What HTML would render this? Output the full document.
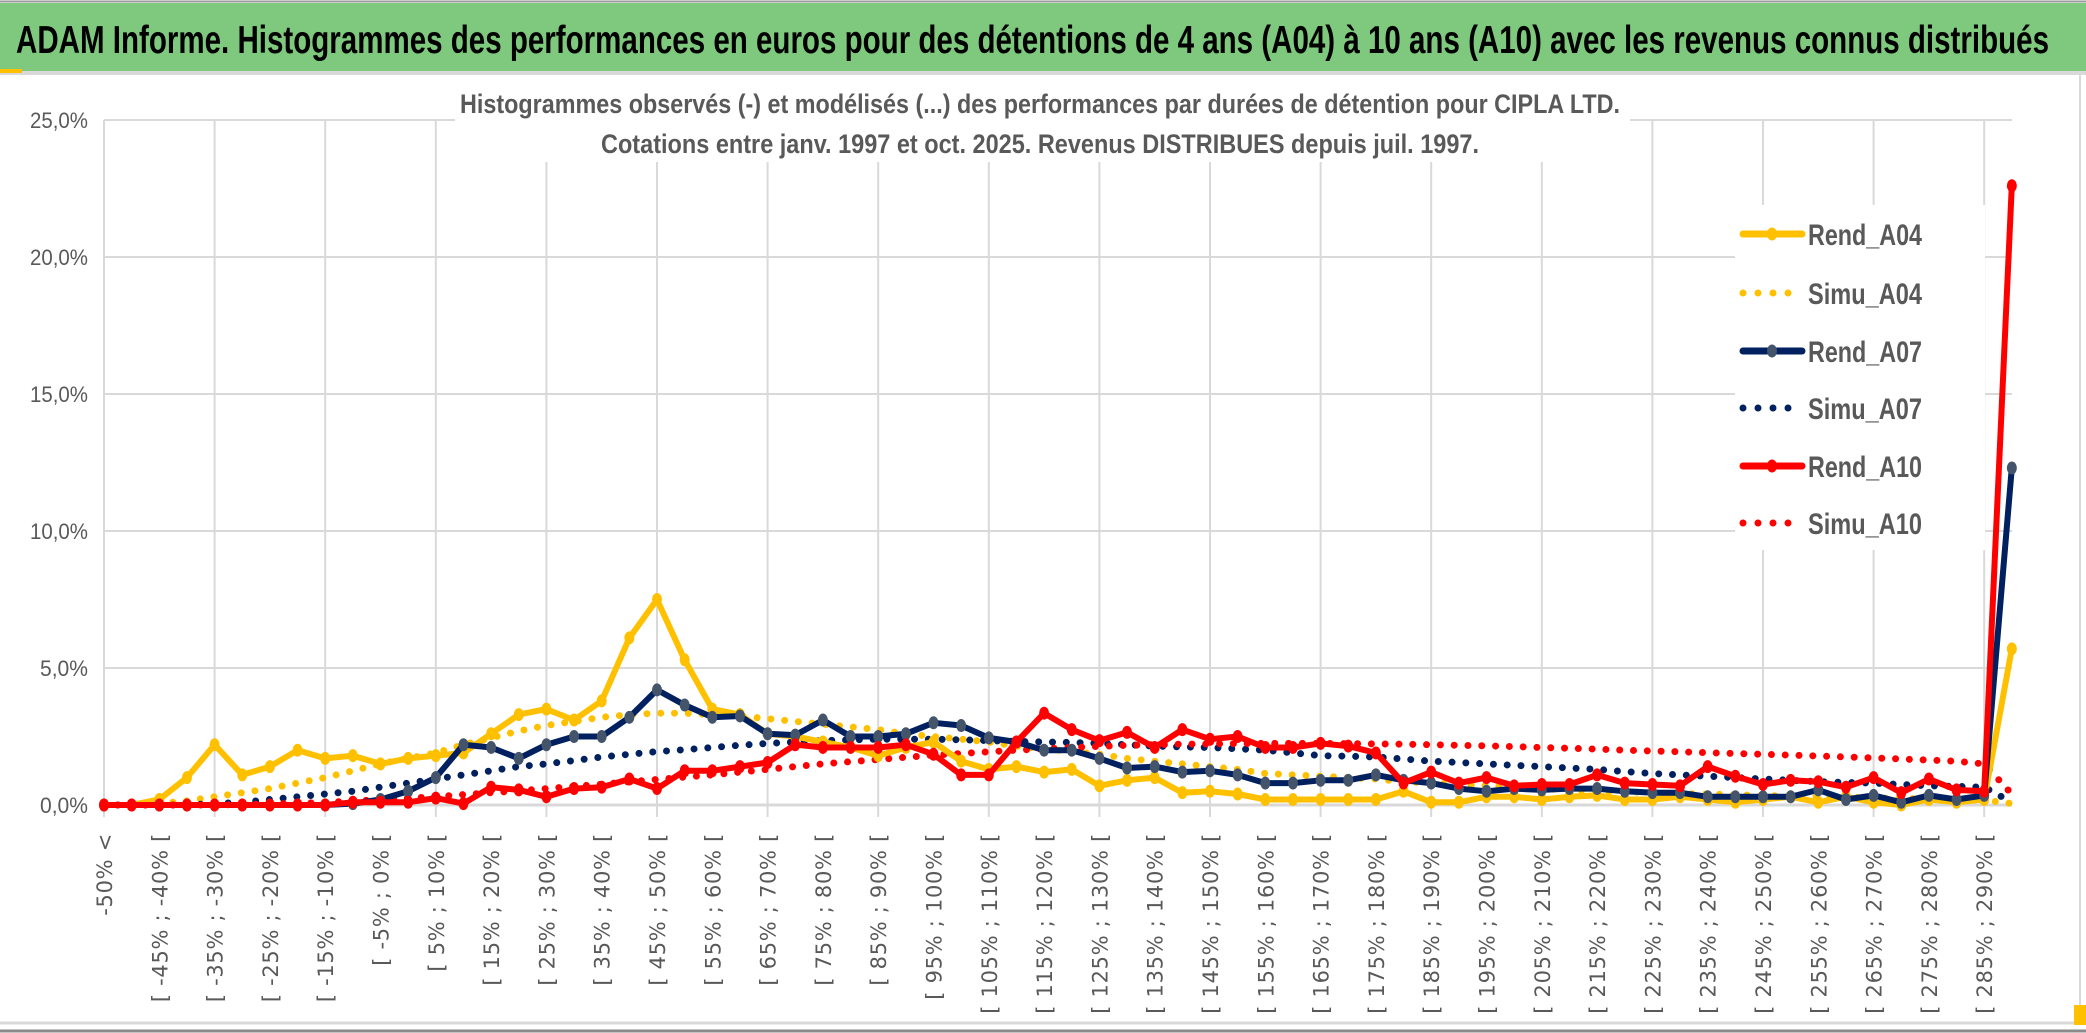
<!DOCTYPE html>
<html><head><meta charset="utf-8"><style>
html,body{margin:0;padding:0;background:#fff;}
svg{display:block;}
text{font-family:"Liberation Sans",sans-serif;}
</style></head><body>
<svg id="chart" width="2086" height="1033" viewBox="0 0 2086 1033" xmlns="http://www.w3.org/2000/svg">
<rect x="0" y="0" width="2086" height="1033" fill="#fff"/>
<rect x="0" y="3" width="2086" height="68" fill="#7EC97D"/>
<line x1="0" y1="1.5" x2="2086" y2="1.5" stroke="#9a9a9a" stroke-width="2"/>
<rect x="0" y="71" width="2086" height="4" fill="#d9d9d9"/>
<rect x="0" y="69" width="22" height="4" fill="#FFC000"/>
<text x="16" y="53" font-size="39" font-weight="bold" fill="#000" textLength="2033" lengthAdjust="spacingAndGlyphs">ADAM Informe. Histogrammes des performances en euros pour des détentions de 4 ans (A04) à 10 ans (A10) avec les revenus connus distribués</text>
<line x1="2080" y1="75" x2="2080" y2="1022" stroke="#d9d9d9" stroke-width="2"/>
<line x1="0" y1="1023" x2="2086" y2="1023" stroke="#d9d9d9" stroke-width="3"/>
<line x1="0" y1="1031" x2="2086" y2="1031" stroke="#8a8a8a" stroke-width="3"/>
<rect x="2074" y="1005" width="12" height="20" fill="#FFC000"/>
<g id="grid"></g>
<g id="yaxis"></g>
<g id="xaxis"></g>
<rect x="455" y="82" width="1175" height="80" fill="#fff"/>
<text x="1040" y="113" font-size="27" font-weight="bold" fill="#595959" text-anchor="middle" textLength="1160" lengthAdjust="spacingAndGlyphs">Histogrammes observés (-) et modélisés (...) des performances par durées de détention pour CIPLA LTD.</text>
<text x="1040" y="153" font-size="27" font-weight="bold" fill="#595959" text-anchor="middle" textLength="878" lengthAdjust="spacingAndGlyphs">Cotations entre janv. 1997 et oct. 2025. Revenus DISTRIBUES depuis juil. 1997.</text>
<g id="series"></g>
<g id="legend"></g>
</svg>
<script>
const categoryCount = 70;
const yTicks = [0, 5, 10, 15, 20, 25];
const yTickLabels = ["0,0%", "5,0%", "10,0%", "15,0%", "20,0%", "25,0%"];
const rendA04 = [0,0,0.2,1.0,2.2,1.1,1.4,2.0,1.7,1.8,1.5,1.7,1.8,1.9,2.6,3.3,3.5,3.1,3.8,6.1,7.5,5.3,3.5,3.3,2.6,2.5,2.3,2.1,1.8,2.1,2.3,1.6,1.3,1.4,1.2,1.3,0.7,0.9,1.0,0.45,0.5,0.4,0.2,0.2,0.2,0.2,0.2,0.5,0.1,0.1,0.3,0.3,0.2,0.3,0.35,0.2,0.2,0.3,0.2,0.1,0.2,0.3,0.1,0.3,0.1,0.0,0.2,0.1,0.2,5.7];
const simuA04 = [0,0,0.05,0.15,0.3,0.45,0.6,0.8,1.0,1.25,1.5,1.7,1.9,2.2,2.45,2.7,2.9,3.05,3.2,3.3,3.35,3.35,3.3,3.25,3.15,3.05,2.95,2.85,2.75,2.6,2.5,2.4,2.3,2.15,2.05,1.95,1.85,1.7,1.6,1.5,1.4,1.3,1.15,1.1,1.05,1.0,0.95,0.85,0.8,0.75,0.7,0.65,0.6,0.55,0.5,0.48,0.45,0.42,0.4,0.37,0.35,0.32,0.3,0.28,0.26,0.24,0.22,0.2,0.18,0.05];
const rendA07 = [0,0,0,0,0,0,0,0,0,0.05,0.2,0.5,1.0,2.2,2.1,1.7,2.2,2.5,2.5,3.2,4.2,3.65,3.2,3.25,2.6,2.55,3.1,2.5,2.5,2.6,3.0,2.9,2.45,2.3,2.0,2.0,1.7,1.35,1.4,1.2,1.25,1.1,0.8,0.8,0.9,0.9,1.1,0.9,0.8,0.6,0.5,0.6,0.55,0.6,0.6,0.5,0.45,0.45,0.3,0.3,0.3,0.3,0.55,0.2,0.35,0.1,0.35,0.2,0.35,12.3];
const simuA07 = [0,0,0,0,0.05,0.1,0.2,0.3,0.4,0.5,0.65,0.8,0.95,1.1,1.25,1.4,1.5,1.62,1.75,1.85,1.95,2.02,2.1,2.18,2.25,2.3,2.35,2.38,2.4,2.4,2.4,2.38,2.35,2.32,2.3,2.28,2.25,2.2,2.15,2.12,2.1,2.05,2.0,1.9,1.8,1.78,1.75,1.68,1.6,1.55,1.5,1.45,1.4,1.35,1.3,1.22,1.15,1.1,1.05,1.0,0.95,0.9,0.85,0.82,0.8,0.75,0.7,0.68,0.65,0.1];
const rendA10 = [0,0,0,0,0,0,0,0,0,0.1,0.1,0.1,0.25,0.05,0.65,0.55,0.3,0.6,0.65,0.95,0.6,1.25,1.25,1.4,1.55,2.2,2.1,2.1,2.1,2.2,1.85,1.1,1.1,2.3,3.35,2.75,2.35,2.65,2.1,2.75,2.4,2.5,2.1,2.1,2.25,2.15,1.9,0.8,1.2,0.8,1.0,0.7,0.75,0.75,1.1,0.8,0.75,0.7,1.4,1.05,0.75,0.9,0.85,0.65,1.0,0.45,0.95,0.55,0.5,22.6];
const simuA10 = [0,0,0,0,0,0.02,0.04,0.06,0.1,0.14,0.2,0.25,0.3,0.38,0.45,0.52,0.6,0.68,0.76,0.85,0.93,1.02,1.1,1.2,1.3,1.4,1.5,1.58,1.66,1.74,1.82,1.88,1.94,2.0,2.05,2.1,2.14,2.18,2.2,2.22,2.23,2.24,2.25,2.25,2.25,2.24,2.23,2.22,2.2,2.18,2.16,2.13,2.1,2.07,2.04,2.0,1.97,1.94,1.91,1.88,1.85,1.82,1.79,1.75,1.72,1.68,1.64,1.6,1.5,0.4];

const NS = "http://www.w3.org/2000/svg";
const X0 = 104, STEP = 27.65, Y0 = 805, PXPCT = 27.4;
function xs(i){ return X0 + i*STEP; }
function ys(v){ return Y0 - v*PXPCT; }
function mk(tag, attrs, parent){ const e=document.createElementNS(NS,tag); for(const k in attrs) e.setAttribute(k,attrs[k]); parent.appendChild(e); return e; }
function catLabel(k){
  if(k===0) return "-50% <";
  if(k===categoryCount-1) return "> 290%";
  const lo=-55+5*k;
  return "[ "+lo+"% ; "+(lo+5)+"% [";
}

const grid=document.getElementById('grid');
yTicks.forEach(function(t){
  const l=mk('line',{x1:X0,x2:2012,y1:ys(t),y2:ys(t),stroke:'#d9d9d9','stroke-width':t===0?3:2},grid);
  
  
});
for(let i=0;i<categoryCount;i+=4){
  const l=mk('line',{x1:xs(i),x2:xs(i),y1:ys(25),y2:Y0+12,stroke:'#d9d9d9','stroke-width':2},grid);
  
  
}
const yaxis=document.getElementById('yaxis');
yTicks.forEach(function(t,j){
  const w = yTickLabels[j].length===4 ? 48 : 58;
  const tx=mk('text',{x:88,y:ys(t)+8,'font-size':22,fill:'#595959','text-anchor':'end',textLength:w,lengthAdjust:'spacingAndGlyphs'},yaxis);
  tx.textContent=yTickLabels[j];
  
  
});
const xaxis=document.getElementById('xaxis');
for(let k=0;k<categoryCount-1;k+=2){
  const x=xs(k)+8, y=833;
  const tx=mk('text',{x:x,y:y,'font-size':21,fill:'#595959','text-anchor':'end','letter-spacing':'0.7',transform:'rotate(-90 '+x+' '+y+')',style:'font-family:"DejaVu Sans",sans-serif'},xaxis);
  tx.textContent=catLabel(k);
  
  
}

const series=document.getElementById('series');
const defs=[
  {name:'simu-a04',data:simuA04,color:'#FFC000',dotted:true},
  {name:'simu-a07',data:simuA07,color:'#002060',dotted:true},
  {name:'simu-a10',data:simuA10,color:'#FF0000',dotted:true},
  {name:'rend-a04',data:rendA04,color:'#FFC000',marker:'#FFC000'},
  {name:'rend-a07',data:rendA07,color:'#002060',marker:'#44546A'},
  {name:'rend-a10',data:rendA10,color:'#FF0000',marker:'#FF0000'}
];
defs.forEach(function(s){
  const g=mk('g',{},series);
  
  
  const pts=s.data.map(function(v,i){return xs(i).toFixed(1)+','+ys(v).toFixed(1);}).join(' ');
  const attrs={points:pts,fill:'none',stroke:s.color,'stroke-width':s.dotted?7:6,'stroke-linejoin':'round','stroke-linecap':'round'};
  if(s.dotted) attrs['stroke-dasharray']='0 13.8';
  const pl=mk('polyline',attrs,g);
  
  
  if(s.marker){
    s.data.forEach(function(v,i){
      const c=mk('ellipse',{cx:xs(i),cy:ys(v),rx:5,ry:6.5,fill:s.marker},g);
      
      
    });
  }
});

const legend=document.getElementById('legend');
mk('rect',{x:1735,y:205,width:250,height:345,fill:'#fff'},legend);
const legendNames=['Rend_A04','Simu_A04','Rend_A07','Simu_A07','Rend_A10','Simu_A10'];
const legendColors=['#FFC000','#FFC000','#002060','#002060','#FF0000','#FF0000'];
const legendMarkers=['#FFC000',null,'#44546A',null,'#FF0000',null];
const legendY=[234,293,351,408,466,523];
legendNames.forEach(function(n,j){
  const g=mk('g',{},legend);
  
  
  const y=legendY[j];
  if(legendMarkers[j]){
    mk('line',{x1:1743,x2:1802,y1:y,y2:y,stroke:legendColors[j],'stroke-width':7,'stroke-linecap':'round'},g);
    mk('ellipse',{cx:1772,cy:y,rx:5,ry:6.5,fill:legendMarkers[j]},g);
  } else {
    mk('line',{x1:1743,x2:j===5?1802:1790,y1:y,y2:y,stroke:legendColors[j],'stroke-width':7,'stroke-linecap':'round','stroke-dasharray':'0 15'},g);
  }
  const t=mk('text',{x:1808,y:y+11,'font-size':30,'font-weight':'bold',fill:'#595959',textLength:114,lengthAdjust:'spacingAndGlyphs'},g);
  t.textContent=n;
});
</script>
</body></html>
